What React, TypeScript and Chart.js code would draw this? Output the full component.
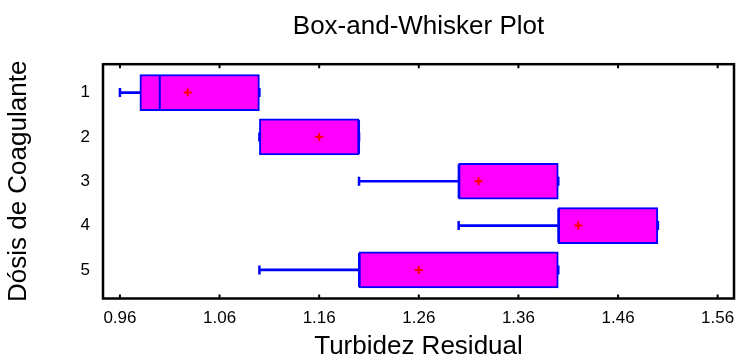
import React, { useEffect, useRef } from "react";
import { Chart, registerables } from "chart.js";

Chart.register(...registerables);

// ---- data ----
const categories = ["1", "2", "3", "4", "5"];
const catPositions = [1, 2, 3, 4, 5];
const minValues = [0.96, 1.1, 1.2, 1.3, 1.1];
const q1Values = [0.98, 1.1, 1.3, 1.4, 1.2];
const medianValues = [1.0, 1.2, 1.3, 1.4, 1.2];
const q3Values = [1.1, 1.2, 1.4, 1.5, 1.4];
const maxValues = [1.1, 1.2, 1.4, 1.5, 1.4];
const meanValues = [1.028, 1.16, 1.32, 1.42, 1.26];
const xTickValues = [0.96, 1.06, 1.16, 1.26, 1.36, 1.46, 1.56];
const xTickLabels = ["0.96", "1.06", "1.16", "1.26", "1.36", "1.46", "1.56"];

const FONT = "'Liberation Sans', Arial, sans-serif";
const BLUE = "#0000ff";

const framePlugin = {
  id: "frame",
  afterDraw(chart: any) {
    const { ctx, chartArea, scales } = chart;
    const { left, right, top, bottom } = chartArea;
    ctx.save();
    ctx.strokeStyle = "#000";
    ctx.lineWidth = 2.5;
    ctx.strokeRect(left, top, right - left, bottom - top);
    ctx.lineWidth = 2;
    xTickValues.forEach((v) => {
      const px = scales.x.getPixelForValue(v);
      ctx.beginPath();
      ctx.moveTo(px, top);
      ctx.lineTo(px, top + 4);
      ctx.moveTo(px, bottom);
      ctx.lineTo(px, bottom - 4);
      ctx.stroke();
    });
    // x tick labels
    ctx.fillStyle = "#000";
    ctx.font = `17px ${FONT}`;
    ctx.textAlign = "center";
    ctx.textBaseline = "middle";
    xTickValues.forEach((v, i) => {
      const px = scales.x.getPixelForValue(v);
      ctx.fillText(xTickLabels[i], px, bottom + 20);
    });
    ctx.restore();
  },
};

export default function App() {
  const ref = useRef<HTMLCanvasElement>(null);

  useEffect(() => {
    if (!ref.current) return;
    const boxData = catPositions.map((y, i) => ({ x: [q1Values[i], q3Values[i]], y }));
    const lowWhisker = catPositions.map((y, i) => ({ x: [minValues[i], q1Values[i]], y }));
    const highWhisker = catPositions.map((y, i) => ({ x: [q3Values[i], maxValues[i]], y }));
    const caps = [
      ...catPositions.map((y, i) => ({ x: minValues[i], y })),
      ...catPositions.map((y, i) => ({ x: maxValues[i], y })),
    ];
    const medians = catPositions.map((y, i) => ({ x: medianValues[i], y }));
    const means = catPositions.map((y, i) => ({ x: meanValues[i], y }));

    const chart = new Chart(ref.current, {
      type: "bar",
      data: {
        datasets: [
          {
            type: "bar",
            label: "box",
            data: boxData as any,
            indexAxis: "y",
            grouped: false,
            backgroundColor: "#ff00ff",
            borderColor: BLUE,
            borderWidth: 2,
            borderSkipped: false,
            barThickness: 36,
            order: 10,
          } as any,
          {
            type: "bar",
            label: "lowWhisker",
            data: lowWhisker as any,
            indexAxis: "y",
            grouped: false,
            backgroundColor: BLUE,
            borderWidth: 0,
            barThickness: 2,
            order: 5,
          } as any,
          {
            type: "bar",
            label: "highWhisker",
            data: highWhisker as any,
            indexAxis: "y",
            grouped: false,
            backgroundColor: BLUE,
            borderWidth: 0,
            barThickness: 2,
            order: 5,
          } as any,
          {
            type: "scatter",
            label: "caps",
            data: caps as any,
            pointStyle: "line",
            rotation: 90,
            radius: 4.5,
            borderColor: BLUE,
            borderWidth: 2.5,
            order: 3,
          } as any,
          {
            type: "scatter",
            label: "median",
            data: medians as any,
            pointStyle: "line",
            rotation: 90,
            radius: 17,
            borderColor: BLUE,
            borderWidth: 2,
            order: 2,
          } as any,
          {
            type: "scatter",
            label: "mean",
            data: means as any,
            pointStyle: "cross",
            radius: 4,
            borderColor: "#ff0000",
            borderWidth: 2,
            order: 1,
          } as any,
        ],
      },
      options: {
        animation: false,
        responsive: false,
        indexAxis: "y",
        layout: { autoPadding: false, padding: { left: 0, right: 3, top: 0, bottom: 0 } },
        plugins: {
          legend: { display: false },
          tooltip: { enabled: false },
          title: {
            display: true,
            text: "Box-and-Whisker Plot",
            fullSize: false,
            color: "#000",
            font: { family: FONT, size: 26, weight: "normal", lineHeight: 1.2 },
            padding: { top: 11, bottom: 22 },
          },
        },
        scales: {
          x: {
            type: "linear",
            position: "bottom",
            min: 0.943,
            max: 1.5764,
            grid: { display: false, drawTicks: false },
            border: { display: false },
            afterBuildTicks: (scale: any) => {
              scale.ticks = xTickValues.map((v) => ({ value: v }));
            },
            afterFit: (scale: any) => {
              scale.height = 61.5;
            },
            ticks: { display: false },
            title: {
              display: true,
              text: "Turbidez Residual",
              color: "#000",
              font: { family: FONT, size: 26, lineHeight: 1 },
              padding: { top: 0, bottom: 0 },
            },
          },
          y: {
            type: "linear",
            position: "left",
            reverse: true,
            min: 0.36,
            max: 5.645,
            offset: false,
            grid: { display: false, drawTicks: false, offset: false },
            border: { display: false },
            afterBuildTicks: (scale: any) => {
              scale.ticks = catPositions.map((v) => ({ value: v }));
            },
            afterFit: (scale: any) => {
              scale.width = 103;
            },
            ticks: {
              color: "#000",
              padding: 13,
              autoSkip: false,
              font: { family: FONT, size: 17 },
              callback: (_v: any, i: number) => categories[i],
            },
            title: {
              display: true,
              text: "Dósis de Coagulante",
              align: "center",
              color: "#000",
              font: { family: FONT, size: 26, lineHeight: 1.2 },
              padding: { top: 3, bottom: 0 },
            },
          },
        },
      },
      plugins: [framePlugin],
    });
    return () => chart.destroy();
  }, []);

  return (
    <div style={{ position: "fixed", left: 0, top: 0, width: 737, height: 360, background: "#fff" }}>
      <canvas ref={ref} width={737} height={360} style={{ display: "block" }} />
    </div>
  );
}
